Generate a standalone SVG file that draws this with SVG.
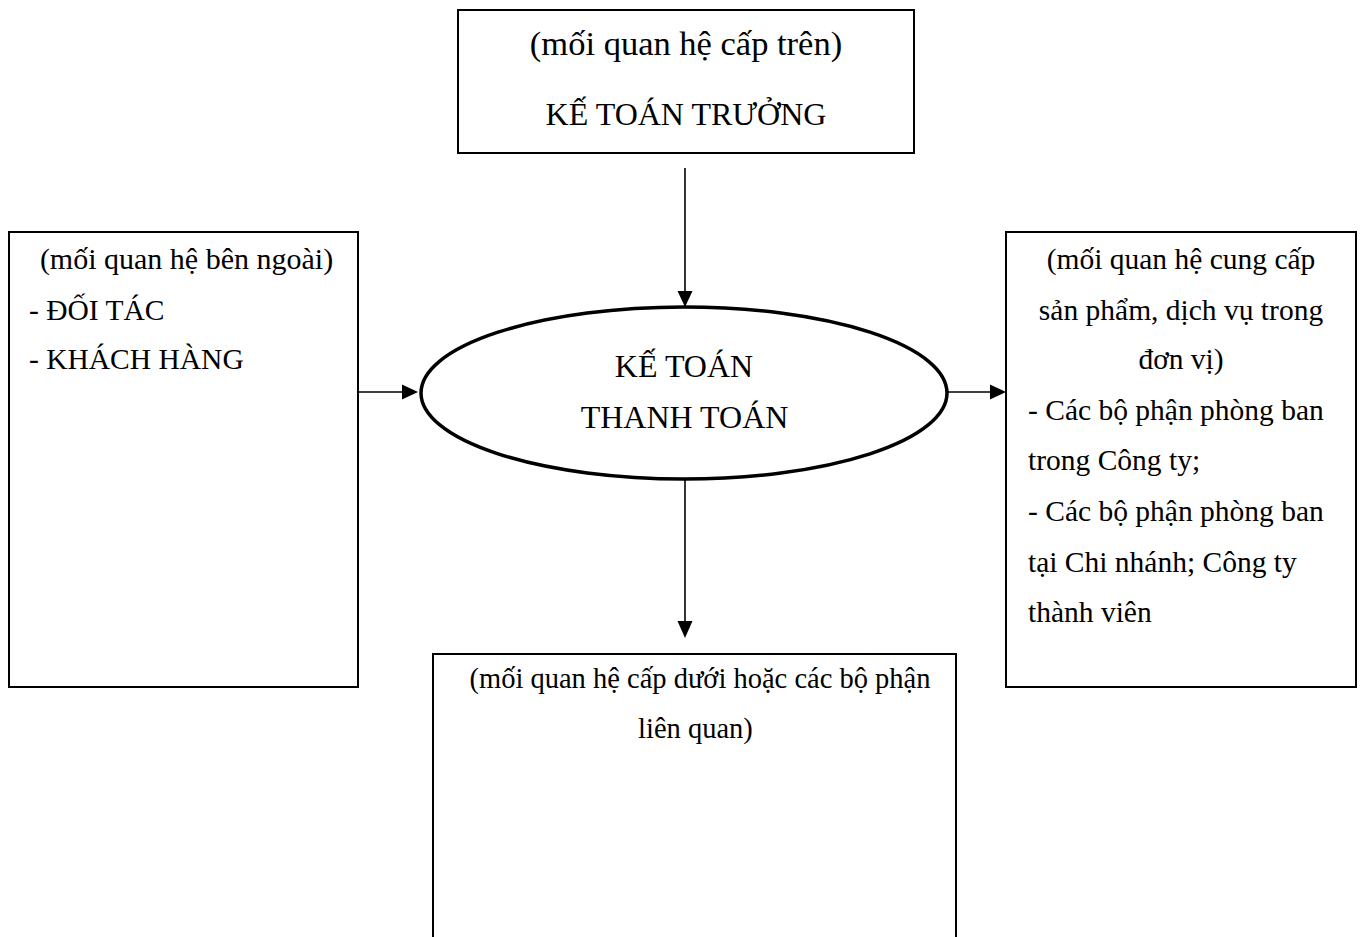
<svg xmlns="http://www.w3.org/2000/svg" width="1362" height="937" viewBox="0 0 1362 937">
  <style>
    .box { fill: #ffffff; stroke: #000000; stroke-width: 2; }
    .oval { fill: #ffffff; stroke: #000000; stroke-width: 3.5; }
    .txt { font-family: "Liberation Serif", "Times New Roman", serif; fill: #000000; font-size: 29.5px; }
    .mid { text-anchor: middle; }
    .line { stroke: #000000; stroke-width: 1.6; fill: none; }
    .head { fill: #000000; }
  </style>
  <rect width="1362" height="937" fill="#ffffff"/>

  <!-- connectors: shaft plus solid triangular head -->
  <g id="connectors">
    <path class="line" d="M685,168 L685,294"/>
    <path class="head" d="M677.5,291 L692.5,291 L685,307 Z"/>
    <path class="line" d="M358,392 L404,392"/>
    <path class="head" d="M402,384.5 L418,392 L402,399.5 Z"/>
    <path class="line" d="M947,392 L992,392"/>
    <path class="head" d="M990,384.5 L1006,392 L990,399.5 Z"/>
    <path class="line" d="M685,480 L685,624"/>
    <path class="head" d="M677.5,621 L692.5,621 L685,638 Z"/>
  </g>

  <!-- superior -->
  <g id="node-superior">
    <rect class="box" x="458" y="10" width="456" height="143"/>
    <text class="txt mid" x="686" y="55" style="font-size:34.5px">(mối quan hệ cấp trên)</text>
    <text class="txt mid" x="686" y="125" style="font-size:32px">KẾ TOÁN TRƯỞNG</text>
  </g>

  <!-- external partners -->
  <g id="node-external">
    <rect class="box" x="9" y="232" width="349" height="455"/>
    <text class="txt mid" x="186.5" y="269" style="font-size:30px">(mối quan hệ bên ngoài)</text>
    <text class="txt" x="29" y="320">- ĐỐI TÁC</text>
    <text class="txt" x="29" y="369">- KHÁCH HÀNG</text>
  </g>

  <!-- centre role -->
  <g id="node-center">
    <ellipse class="oval" cx="684" cy="393" rx="263" ry="86"/>
    <text class="txt mid" x="684" y="377" style="font-size:32px">KẾ TOÁN</text>
    <text class="txt mid" x="684.5" y="428" style="font-size:32px">THANH TOÁN</text>
  </g>

  <!-- internal units -->
  <g id="node-internal">
    <rect class="box" x="1006" y="232" width="350" height="455"/>
    <text class="txt mid" x="1181" y="269">(mối quan hệ cung cấp</text>
    <text class="txt mid" x="1181" y="320">sản phẩm, dịch vụ trong</text>
    <text class="txt mid" x="1181" y="369">đơn vị)</text>
    <text class="txt" x="1028" y="420">- Các bộ phận phòng ban</text>
    <text class="txt" x="1028" y="470">trong Công ty;</text>
    <text class="txt" x="1028" y="521">- Các bộ phận phòng ban</text>
    <text class="txt" x="1028" y="572">tại Chi nhánh; Công ty</text>
    <text class="txt" x="1028" y="622">thành viên</text>
  </g>

  <!-- subordinate -->
  <g id="node-subordinate">
    <rect class="box" x="433" y="654" width="523" height="300"/>
    <text class="txt mid" x="700" y="688" style="font-size:28.5px">(mối quan hệ cấp dưới hoặc các bộ phận</text>
    <text class="txt mid" x="695.5" y="738" style="font-size:28.5px">liên quan)</text>
  </g>
</svg>
